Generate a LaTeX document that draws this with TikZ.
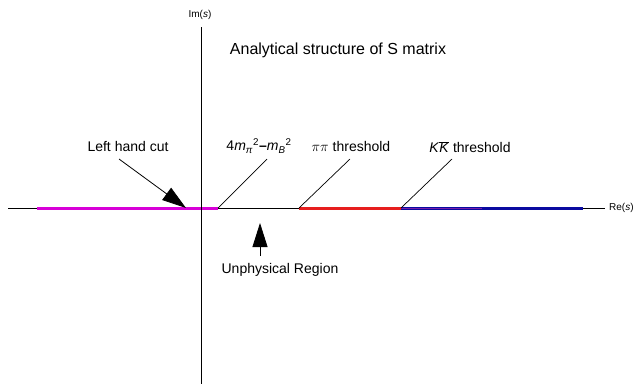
\documentclass[tikz,border=0pt]{standalone}
\usepackage{fontspec}
\setmainfont{Liberation Sans}
\usetikzlibrary{arrows.meta}
\definecolor{cutmag}{RGB}{215,0,215}
\definecolor{cutred}{RGB}{230,30,30}
\definecolor{cutblue}{RGB}{10,10,160}
\definecolor{cutpur}{RGB}{120,30,170}
\tikzset{
  axis/.style={line width=0.8pt, black},
  cutline/.style={line width=3pt},
  pointer/.style={line width=0.7pt, black},
  bigarrow/.style={line width=0.8pt, -{Triangle[length=24pt,width=15pt]}},
  lbl/.style={font=\fontsize{14}{16}\selectfont, inner sep=0pt},
  small/.style={font=\fontsize{10}{12}\selectfont, inner sep=0pt}
}
\begin{document}
\begin{tikzpicture}[x=1pt,y=-1pt]
\useasboundingbox (0,0) rectangle (639,386);
% axes
\coordinate (xl) at (8,208);
\coordinate (xr) at (605,208);
\coordinate (yt) at (201,27);
\coordinate (yb) at (201,384);
% cut points
\coordinate (lc0) at (37,208);
\coordinate (lc1) at (218,208);
\coordinate (pp) at (299,208);
\coordinate (kk) at (401,208);
\coordinate (kkm) at (482,208);
\coordinate (end) at (583,208);
\coordinate (lctip) at (186,208);
\draw[axis] (xl) -- (xr);
% cuts
\draw[cutline, cutmag] (lc0) -- (lc1);
\draw[cutline, cutred] (pp) -- (kk);
\draw[cutline, cutblue] (kk) -- (end);
\draw[line width=1pt, cutpur] ([yshift=-0.8pt]kk) -- ([yshift=-0.8pt]kkm);
\draw[axis] (yt) -- (yb);
% labels
\node[small, anchor=west] (re) at (609,208) {Re(\textit{s})};
\node[small] (im) at (200,15) {Im(\textit{s})};
\node[font=\fontsize{16}{18}\selectfont, inner sep=0pt] (title) at (338,50) {Analytical structure of S matrix};
\node[lbl] (lhc) at (128,146) {Left hand cut};
\node[lbl] (thr) at (259,146) {4\textit{m}\textsubscript{\textit{π}}\textsuperscript{2}\textbf{–}\textit{m}\textsubscript{\textit{B}}\textsuperscript{2}};
\node[lbl] (pipi) at (351,146) {$\pi\pi$ threshold};
\node[lbl] (kkbar) at (470,147) {\textit{K}$\overline{\hbox{\textit{K}}}$ threshold};
\node[lbl] (unph) at (280,270) {Unphysical Region};
% pointer ends
\coordinate (lhcs) at (119,159);
\coordinate (thrs) at (267,159);
\coordinate (pps) at (350,159);
\coordinate (kks) at (452,159);
\coordinate (unt) at (260,256);
\coordinate (unh) at (260,223);
\draw[bigarrow] (lhcs) -- (lctip);
\draw[pointer] (thrs) -- (lc1);
\draw[pointer] (pps) -- (pp);
\draw[pointer] (kks) -- (kk);
\draw[bigarrow] (unt) -- (unh);
\end{tikzpicture}
\end{document}
